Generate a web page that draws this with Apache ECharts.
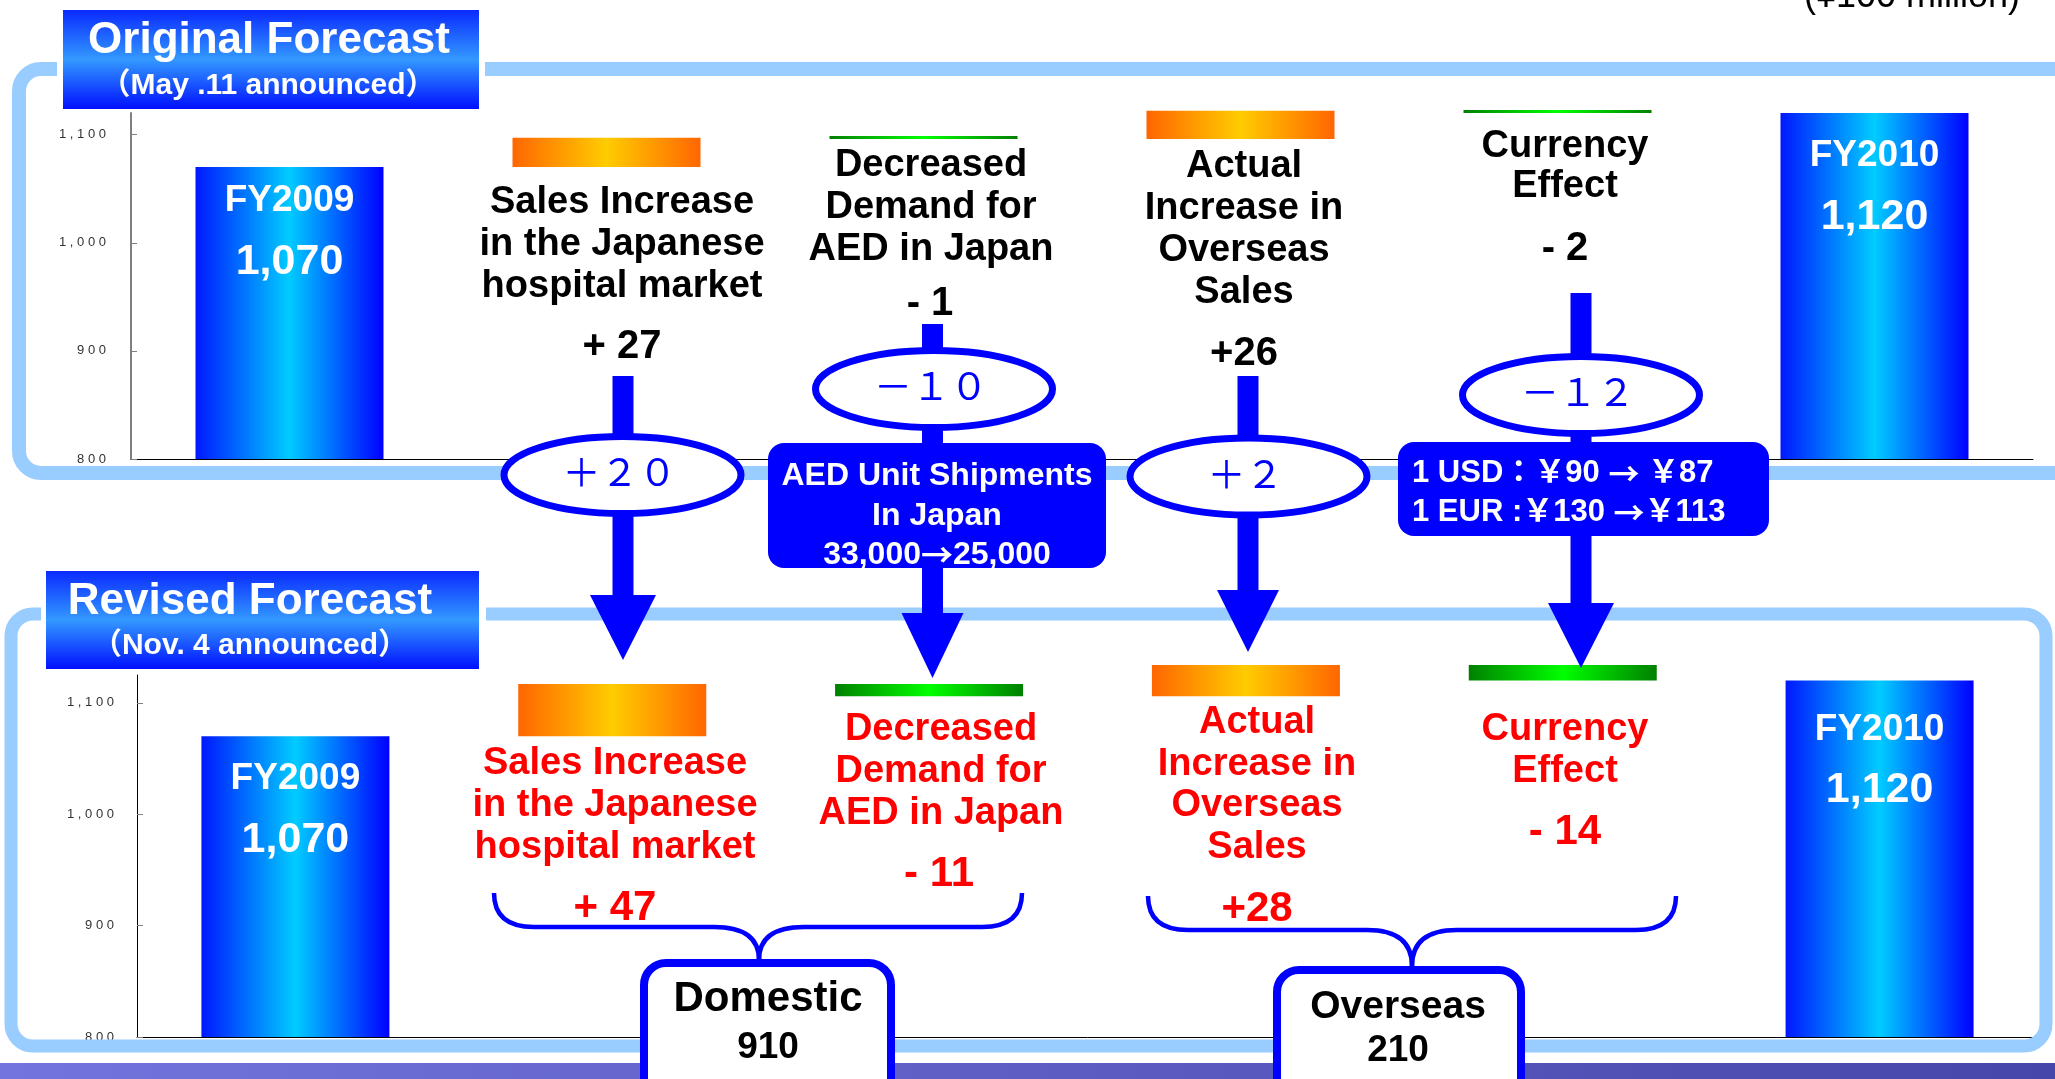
<!DOCTYPE html>
<html>
<head>
<meta charset="utf-8">
<title>FY2010 sales forecast revision</title>
<script src="https://cdn.jsdelivr.net/npm/echarts@6/dist/echarts.min.js"></script>
<style>
  html, body { margin: 0; padding: 0; background: #fff; }
  #main { width: 2055px; height: 1079px; }
</style>
</head>
<body>
<div id="main"></div>
<script>
// ---- data (¥100 million) ----
const categories = ['FY2009', 'Sales Increase\nin the Japanese\nhospital market', 'Decreased\nDemand for\nAED in Japan',
  'Actual\nIncrease in\nOverseas\nSales', 'Currency\nEffect', 'FY2010'];
const originalForecast = [1070, 27, -1, 26, -2, 1120];   // May.11
const revisedForecast = [1070, 47, -11, 28, -14, 1120];   // Nov.4
const yTicks = [800, 900, 1000, 1100];
const segmentNames = ['Domestic', 'Overseas'];
const segmentValues = [910, 210];
const aedShipments = [33000, 25000];
const usdRate = [90, 87];
const eurRate = [130, 113];

// ---- layout of the annotations (px) ----
const FONT = '"Liberation Sans", Arial, "Noto Sans CJK JP", sans-serif';
const CJK = '"Noto Sans CJK JP", sans-serif';
const topLabelPos = [null, [622, 203, 42], [931, 166, 42], [1244, 167, 42], [1565, 147, 40]];
const topValuePos = [null, [622, 347], [930, 304], [1244, 354], [1565, 249]];
const botLabelPos = [null, [615, 764, 42], [941, 730, 42], [1257, 723, 41.5], [1565, 730, 42]];
const botValuePos = [null, [615, 908], [939, 874], [1257, 909], [1565, 832]];
const totalLabelGap = [[4, 13], [13, 19]];   // per panel: FY2009, FY2010
const arrowPos = [
  { cx: 623, top: 376, head: 595, tip: 660, hw: 33 },
  { cx: 932.5, top: 324, head: 613, tip: 678, hw: 31 },
  { cx: 1248, top: 376, head: 590, tip: 652, hw: 31 },
  { cx: 1581, top: 293, head: 603, tip: 668, hw: 33 }
];
const ellipsePos = [[622.5, 475], [934, 389], [1248.5, 476.5], [1581, 395]];

const orange = { type: 'linear', x: 0, y: 0, x2: 1, y2: 0,
  colorStops: [{ offset: 0, color: '#FF6600' }, { offset: 0.5, color: '#FFCC00' }, { offset: 1, color: '#FF6600' }] };
const green = { type: 'linear', x: 0, y: 0, x2: 1, y2: 0,
  colorStops: [{ offset: 0, color: '#008000' }, { offset: 0.5, color: '#00FF00' }, { offset: 1, color: '#008000' }] };
const blueBar = { type: 'linear', x: 0, y: 0, x2: 1, y2: 0,
  colorStops: [{ offset: 0, color: '#0018FF' }, { offset: 0.5, color: '#00CCFF' }, { offset: 1, color: '#0000FF' }] };

function signed(v, i) {
  // overseas numbers are written without the gap in the original slide
  return (v > 0 ? '+' : '-') + (i === 3 ? '' : ' ') + Math.abs(v);
}
function fullWidth(v) {
  const s = (v > 0 ? '+' : '-') + Math.abs(v);
  return s.replace(/[0-9+\-]/g, c => String.fromCharCode(c.charCodeAt(0) + 0xFEE0));
}

// base (invisible) + step + total, stacked
function waterfall(vals, gaps) {
  const base = [], step = [], total = [];
  let run = 0;
  vals.forEach((v, i) => {
    if (i === 0 || i === vals.length - 1) {
      base.push(0); step.push('-');
      total.push({ value: v, label: { distance: i === 0 ? gaps[0] : gaps[1] } });
      run = v;
    } else {
      const next = run + v;
      base.push(Math.min(run, next));
      step.push({ value: Math.abs(v), itemStyle: { color: v > 0 ? orange : green } });
      total.push('-');
      run = next;
    }
  });
  return { base, step, total };
}

function panelSeries(vals, idx) {
  const w = waterfall(vals, totalLabelGap[idx]);
  const common = { type: 'bar', xAxisIndex: idx, yAxisIndex: idx, stack: 'w' + idx, barWidth: 188 };
  return [
    Object.assign({}, common, { data: w.base, silent: true, itemStyle: { color: 'transparent' } }),
    Object.assign({}, common, { data: w.step, barMinHeight: 3, clip: false }),
    Object.assign({}, common, {
      data: w.total, itemStyle: { color: blueBar },
      label: {
        show: true, position: 'insideTop', distance: 9,
        formatter: p => '{a|' + p.name + '}\n{b|' + p.value.toLocaleString('en-US') + '}',
        rich: {
          a: { fontSize: 37, fontWeight: 'bold', color: '#fff', lineHeight: 60, fontFamily: FONT },
          b: { fontSize: 43, fontWeight: 'bold', color: '#fff', lineHeight: 62, fontFamily: FONT }
        }
      }
    })
  ];
}

function yAxisFor(idx, max, lineColor, lineWidth, margin) {
  return {
    type: 'value', gridIndex: idx, min: yTicks[0], max: max, interval: yTicks[1] - yTicks[0],
    axisLine: { show: true, lineStyle: { color: lineColor, width: lineWidth } },
    axisTick: { show: true, inside: true, length: 6, lineStyle: { color: '#808080' } },
    splitLine: { show: false },
    axisLabel: {
      margin: margin, fontSize: 13, color: '#333', fontFamily: FONT, showMaxLabel: false,
      formatter: v => v.toLocaleString('en-US').split('').join(' ')
    }
  };
}

// ---- decoration ----
function text(str, x, y, size, color, extra) {
  return {
    type: 'text', z: 8, x: x, y: y,
    style: Object.assign({ text: str, fontSize: size, fontWeight: 'bold', fontFamily: FONT, fill: color,
      align: 'center', verticalAlign: 'middle' }, extra || {})
  };
}
function block(str, pos, size, color) {
  return text(str, pos[0], pos[1] - pos[2] / 2, size, color, { verticalAlign: 'top', lineHeight: pos[2] });
}
// wide arrow glyph taken from the CJK font
function arrowRich(size) {
  return { ar: { fontFamily: CJK, fontWeight: 'bold', fontSize: size, fill: '#fff' } };
}

function line(x1, y1, x2, y2) {
  return { type: 'line', z: 6, shape: { x1, y1, x2, y2 }, style: { stroke: '#0000FF', lineWidth: 4.5 } };
}
function curve(x1, y1, cx, cy, x2, y2) {
  return { type: 'bezierCurve', z: 6, shape: { x1, y1, x2, y2, cpx1: cx, cpy1: cy },
    style: { stroke: '#0000FF', lineWidth: 4.5, fill: 'none' } };
}
function brace(x1, x2, xm, yTop, yLine, yTip) {
  return [
    curve(x1, yTop, x1, yLine, x1 + 40, yLine),
    line(x1 + 40, yLine, xm - 45, yLine),
    curve(xm - 45, yLine, xm, yLine, xm, yTip),
    curve(xm + 45, yLine, xm, yLine, xm, yTip),
    line(xm + 45, yLine, x2 - 40, yLine),
    curve(x2 - 40, yLine, x2, yLine, x2, yTop)
  ];
}

const vGrad = { type: 'linear', x: 0, y: 0, x2: 0, y2: 1,
  colorStops: [{ offset: 0, color: '#0A2AFF' }, { offset: 0.5, color: '#3399FF' }, { offset: 1, color: '#0010FF' }] };

let deco = [];
// panel frames with gaps for the title boxes
deco.push({ type: 'rect', z: 3, shape: { x: 19, y: 69, width: 2080, height: 404, r: 22 },
  style: { fill: 'none', stroke: '#99CCFF', lineWidth: 14 } });
deco.push({ type: 'rect', z: 3, shape: { x: 11, y: 614, width: 2035, height: 432, r: 22 },
  style: { fill: 'none', stroke: '#99CCFF', lineWidth: 13 } });
deco.push({ type: 'rect', z: 4, shape: { x: 57, y: 55, width: 428, height: 30 }, style: { fill: '#fff' } });
deco.push({ type: 'rect', z: 4, shape: { x: 41, y: 600, width: 445, height: 30 }, style: { fill: '#fff' } });
deco.push({ type: 'rect', z: 5, shape: { x: 63, y: 10, width: 416, height: 99 }, style: { fill: vGrad } });
deco.push({ type: 'rect', z: 5, shape: { x: 46, y: 571, width: 433, height: 98 }, style: { fill: vGrad } });
deco.push(text('Original Forecast', 269, 41, 44, '#fff'));
deco.push(text('（May .11 announced）', 268, 86, 30, '#fff'));
deco.push(text('Revised Forecast', 250, 602, 44, '#fff'));
deco.push(text('（Nov. 4 announced）', 250, 646, 30, '#fff'));
deco.push(text('(¥100 million)', 2020, -3, 36, '#000', { align: 'right', fontWeight: 'normal' }));
// bottom strip
deco.push({ type: 'rect', z: 3, shape: { x: 0, y: 1063, width: 2055, height: 16 },
  style: { fill: { type: 'linear', x: 0, y: 0, x2: 1, y2: 0,
    colorStops: [{ offset: 0, color: '#7474DE' }, { offset: 1, color: '#4646AA' }] } } });

// factor labels and values
for (let i = 1; i <= 4; i++) {
  deco.push(block(categories[i], topLabelPos[i], 38, '#000'));
  deco.push(text(signed(originalForecast[i], i), topValuePos[i][0], topValuePos[i][1], 40, '#000'));
  deco.push(block(categories[i], botLabelPos[i], 38, '#FF0000'));
  deco.push(text(signed(revisedForecast[i], i), botValuePos[i][0], botValuePos[i][1], 42, '#FF0000'));
  // arrow from original to revised
  const a = arrowPos[i - 1];
  deco.push({ type: 'rect', z: 6, shape: { x: a.cx - 10.5, y: a.top, width: 21, height: a.head - a.top + 1 },
    style: { fill: '#0000FF' } });
  deco.push({ type: 'polygon', z: 6, shape: { points: [[a.cx - a.hw, a.head], [a.cx + a.hw, a.head], [a.cx, a.tip]] },
    style: { fill: '#0000FF' } });
  const e = ellipsePos[i - 1];
  deco.push({ type: 'ellipse', z: 7, shape: { cx: e[0], cy: e[1], rx: 118.5, ry: 38.5 },
    style: { fill: '#fff', stroke: '#0000FF', lineWidth: 7 } });
  deco.push(text(fullWidth(revisedForecast[i] - originalForecast[i]), e[0] - 3, e[1] - 3, 38, '#0000FF',
    { fontWeight: 'normal', fontFamily: CJK }));
}

// AED shipments box
deco.push({ type: 'rect', z: 7, shape: { x: 768, y: 443, width: 338, height: 125, r: 16 }, style: { fill: '#0000FF' } });
deco.push(text('AED Unit Shipments', 937, 476, 32, '#fff'));
deco.push(text('In Japan', 937, 516, 32, '#fff'));
deco.push(text(aedShipments[0].toLocaleString('en-US') + '{ar|→}' + aedShipments[1].toLocaleString('en-US'),
  937, 555, 32, '#fff', { rich: arrowRich(32) }));
// currency box
deco.push({ type: 'rect', z: 7, shape: { x: 1398, y: 442, width: 371, height: 94, r: 16 }, style: { fill: '#0000FF' } });
deco.push(text('1 USD：￥' + usdRate[0] + ' {ar|→} ￥' + usdRate[1], 1412, 473, 31, '#fff',
  { align: 'left', rich: arrowRich(31) }));
deco.push(text('1 EUR :￥' + eurRate[0] + ' {ar|→}￥' + eurRate[1], 1412, 512, 31, '#fff',
  { align: 'left', rich: arrowRich(31) }));

// braces and segment boxes
deco = deco.concat(brace(494, 1022, 759, 893, 927, 960), brace(1148, 1676, 1412, 896, 930, 966));
deco.push({ type: 'rect', z: 7, shape: { x: 644, y: 963, width: 247, height: 140, r: 22 },
  style: { fill: '#fff', stroke: '#0000FF', lineWidth: 8 } });
deco.push({ type: 'rect', z: 7, shape: { x: 1277, y: 970, width: 244, height: 140, r: 22 },
  style: { fill: '#fff', stroke: '#0000FF', lineWidth: 8 } });
deco.push(text(segmentNames[0], 768, 999, 42, '#000'));
deco.push(text(String(segmentValues[0]), 768, 1048, 37, '#000'));
deco.push(text(segmentNames[1], 1398, 1007, 39, '#000'));
deco.push(text(String(segmentValues[1]), 1398, 1051, 37, '#000'));

const chart = echarts.init(document.getElementById('main'));
chart.setOption({
  backgroundColor: '#fff',
  animation: false,
  grid: [
    { left: 131, right: 22, top: 113, bottom: 620 },
    { left: 137, right: 17, top: 675, bottom: 42 }
  ],
  xAxis: [0, 1].map(i => ({
    type: 'category', gridIndex: i, data: categories,
    axisLine: { lineStyle: { color: '#000', width: 1 } },
    axisTick: { show: false }, axisLabel: { show: false }
  })),
  yAxis: [yAxisFor(0, 1120, '#808080', 2, 25), yAxisFor(1, 1125, '#000', 1, 23)],
  series: panelSeries(originalForecast, 0).concat(panelSeries(revisedForecast, 1)),
  graphic: { elements: deco }
});
</script>
</body>
</html>
